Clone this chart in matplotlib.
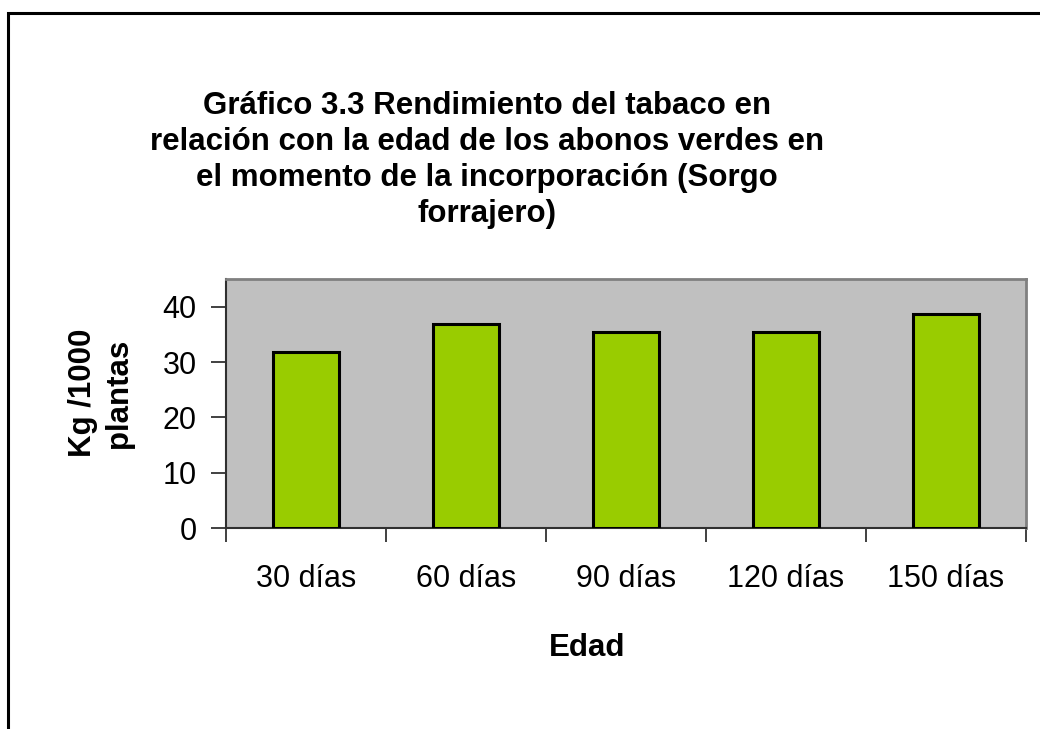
import numpy as np
from matplotlib import pyplot as plt
from matplotlib.patches import Rectangle

plt.rcParams['font.family'] = ['Liberation Sans', 'DejaVu Sans']

categories = ['30 días', '60 días', '90 días', '120 días', '150 días']
rendimiento = [31.8, 36.8, 35.4, 35.4, 38.6]
yticks = [0, 10, 20, 30, 40]

W, H = 1040, 729
fig = plt.figure(figsize=(W / 100, H / 100), dpi=100)

# outer chart border (bottom/right cut off in the original)
fig.patches.append(Rectangle((8 / W, -0.1), 1.2, 1 - 12.5 / H + 0.1,
                             transform=fig.transFigure, fill=False,
                             ec='black', lw=2.2))

ax = fig.add_axes([226 / W, 1 - 528 / H, 800 / W, 249 / H])
ax.set_facecolor('#c0c0c0')

x = np.arange(len(categories))
ax.bar(x, rendimiento, width=0.41, color='#99cc00', ec='black', lw=2.2,
       zorder=3)

ax.set_xlim(-0.5, len(categories) - 0.5)
ax.set_ylim(0, 45)
ax.set_yticks(yticks)
ax.set_xticks(np.arange(len(categories) + 1) - 0.5)
ax.set_xticklabels([])
ax.set_xticks(x, minor=True)
ax.set_xticklabels(categories, minor=True)
ax.tick_params(axis='x', which='minor', length=0, labelsize=22, pad=26)
ax.tick_params(axis='x', which='major', length=10, width=1.2,
               color='#202020')
ax.tick_params(axis='y', length=11, width=1.2, color='#202020',
               labelsize=22, pad=10)

for s in ['top', 'right']:
    ax.spines[s].set_color('#808080')
    ax.spines[s].set_linewidth(2)
for s in ['left', 'bottom']:
    ax.spines[s].set_color('#303030')
    ax.spines[s].set_linewidth(1.5)

fig.text(487 / W, 1 - 160 / H,
         'Gráfico 3.3 Rendimiento del tabaco en\n'
         'relación con la edad de los abonos verdes en\n'
         'el momento de la incorporación (Sorgo\n'
         'forrajero)',
         ha='center', va='center', fontsize=22.5, fontweight='bold',
         linespacing=1.27)

fig.text(101 / W, 1 - 393 / H, 'Kg /1000\nplantas', rotation=90,
         ha='center', va='center', fontsize=22.5, fontweight='bold',
         linespacing=1.25)

fig.text(587 / W, 1 - 648 / H, 'Edad', ha='center', va='center',
         fontsize=22.5, fontweight='bold')

fig.savefig('out.png', dpi=100)
